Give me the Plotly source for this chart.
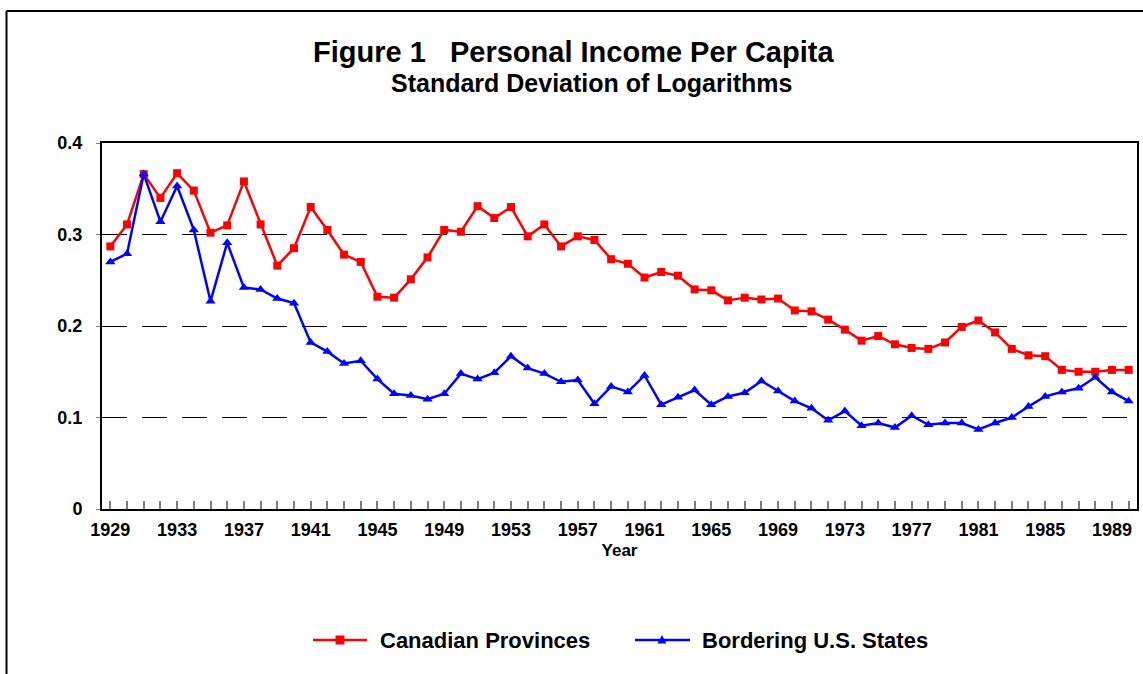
import plotly.graph_objects as go

years = list(range(1929, 1991))
canadian = [0.287, 0.311, 0.366, 0.340, 0.367, 0.348, 0.302, 0.310, 0.358, 0.311,
            0.266, 0.285, 0.330, 0.305, 0.278, 0.270, 0.232, 0.231, 0.251, 0.275,
            0.305, 0.303, 0.331, 0.318, 0.330, 0.298, 0.311, 0.287, 0.298, 0.294,
            0.273, 0.268, 0.253, 0.259, 0.255, 0.240, 0.239, 0.228, 0.231, 0.229,
            0.230, 0.217, 0.216, 0.207, 0.196, 0.184, 0.189, 0.180, 0.176, 0.175,
            0.182, 0.199, 0.206, 0.193, 0.175, 0.168, 0.167, 0.152, 0.150, 0.150,
            0.152, 0.152]
us_states = [0.270, 0.279, 0.366, 0.314, 0.353, 0.305, 0.227, 0.291, 0.242, 0.240,
             0.230, 0.225, 0.182, 0.172, 0.159, 0.162, 0.142, 0.126, 0.124, 0.120,
             0.126, 0.148, 0.142, 0.149, 0.167, 0.154, 0.148, 0.139, 0.141, 0.115,
             0.134, 0.128, 0.146, 0.114, 0.122, 0.130, 0.114, 0.123, 0.127, 0.140,
             0.129, 0.118, 0.110, 0.097, 0.107, 0.091, 0.094, 0.089, 0.102, 0.092,
             0.094, 0.094, 0.087, 0.094, 0.100, 0.112, 0.123, 0.128, 0.132, 0.144,
             0.128, 0.118]
series_names = ["Canadian Provinces", "Bordering U.S. States"]
tick_years = list(range(1929, 1991, 4))
y_ticks = [0, 0.1, 0.2, 0.3, 0.4]
y_tick_text = ["0", "0.1", "0.2", "0.3", "0.4"]

FONT = "Liberation Sans, Arial, sans-serif"
RED, BLUE = "#ff0000", "#0000ff"

# Page pixel geometry (body margin removed in the written page)
W, H = 1143, 674
PLOT_L, PLOT_R, PLOT_T, PLOT_B = 102, 1137, 143, 509
L, T = PLOT_L, PLOT_T
R, B = W - PLOT_R, H - PLOT_B
PW, PH = W - L - R, H - T - B


def px(x):
    return (x - L) / PW


def py(y):
    return (H - B - y) / PH


fig = go.Figure()
fig.add_trace(go.Scatter(
    x=years, y=canadian, name=series_names[0], mode="lines+markers",
    line=dict(color=RED, width=2.5),
    marker=dict(symbol="square", size=8, color=RED),
))
fig.add_trace(go.Scatter(
    x=years, y=us_states, name=series_names[1], mode="lines+markers",
    line=dict(color=BLUE, width=2.5),
    marker=dict(symbol="triangle-up", size=9, color=BLUE),
))

# custom legend (longer line samples, as in the original)
LEG_Y = 640
legend_shapes = [
    dict(type="line", xref="paper", yref="paper", x0=px(313), x1=px(367),
         y0=py(LEG_Y), y1=py(LEG_Y), line=dict(color=RED, width=2.5)),
    dict(type="rect", xref="paper", yref="paper", x0=px(335.5), x1=px(344.5),
         y0=py(LEG_Y + 4.5), y1=py(LEG_Y - 4.5), line=dict(width=0), fillcolor=RED),
    dict(type="line", xref="paper", yref="paper", x0=px(635), x1=px(690),
         y0=py(LEG_Y), y1=py(LEG_Y), line=dict(color=BLUE, width=2.5)),
    dict(type="path", xref="paper", yref="paper",
         path="M {:.5f},{:.5f} L {:.5f},{:.5f} L {:.5f},{:.5f} Z".format(
             px(657.5), py(LEG_Y + 3.5), px(666.5), py(LEG_Y + 3.5), px(662), py(LEG_Y - 5)),
         line=dict(width=0), fillcolor=BLUE),
]

frame_shapes = [
    dict(type="line", xref="paper", yref="paper", x0=px(6.5), x1=px(1160),
         y0=py(11), y1=py(11), line=dict(color="black", width=2)),
    dict(type="line", xref="paper", yref="paper", x0=px(6.5), x1=px(6.5),
         y0=py(11), y1=py(690), line=dict(color="black", width=2)),
]

fig.update_layout(
    width=W, height=H,
    margin=dict(l=L, r=R, t=T, b=B, autoexpand=False),
    paper_bgcolor="white", plot_bgcolor="white",
    font=dict(family=FONT, color="black"),
    showlegend=False,
    xaxis=dict(
        range=[1928.5, 1990.5],
        tickmode="array", tickvals=years,
        ticktext=[str(y) if y in tick_years else "" for y in years],
        ticks="inside", ticklen=8, tickwidth=1.5, tickcolor="#808080",
        showgrid=False, zeroline=False,
        showline=True, linecolor="black", linewidth=2, mirror=True,
        tickfont=dict(family=FONT, size=18, weight="bold", color="black"),
        ticklabelstandoff=3,
        title=dict(text="Year", font=dict(family=FONT, size=17, weight="bold", color="black"),
                   standoff=6),
    ),
    yaxis=dict(
        range=[0, 0.4],
        tickmode="array", tickvals=y_ticks, ticktext=y_tick_text,
        ticks="outside", ticklen=4, tickwidth=1, tickcolor="#808080",
        showgrid=True, gridcolor="black", gridwidth=1, griddash="25px,15px",
        zeroline=False,
        showline=True, linecolor="black", linewidth=2, mirror=True,
        tickfont=dict(family=FONT, size=18, weight="bold", color="black"),
        ticklabelstandoff=10,
    ),
    annotations=[
        dict(text="Figure 1&nbsp;&nbsp;&nbsp;Personal Income Per Capita", xref="paper", yref="paper",
             x=px(573), y=py(52), xanchor="center", yanchor="middle", showarrow=False,
             font=dict(family=FONT, size=29, weight="bold", color="black")),
        dict(text="Standard Deviation of Logarithms", xref="paper", yref="paper",
             x=px(591), y=py(83), xanchor="center", yanchor="middle", showarrow=False,
             font=dict(family=FONT, size=25, weight="bold", color="black")),
        dict(text=series_names[0], xref="paper", yref="paper",
             x=px(378), y=py(LEG_Y), xanchor="left", yanchor="middle", showarrow=False,
             font=dict(family=FONT, size=22, weight="bold", color="black")),
        dict(text=series_names[1], xref="paper", yref="paper",
             x=px(700), y=py(LEG_Y), xanchor="left", yanchor="middle", showarrow=False,
             font=dict(family=FONT, size=22, weight="bold", color="black")),
    ],
    shapes=frame_shapes + legend_shapes,
)

fig.write_html(
    "out.html",
    config={"displayModeBar": False},
    post_script="document.body.style.margin='0px'; document.body.style.overflow='hidden';",
)
